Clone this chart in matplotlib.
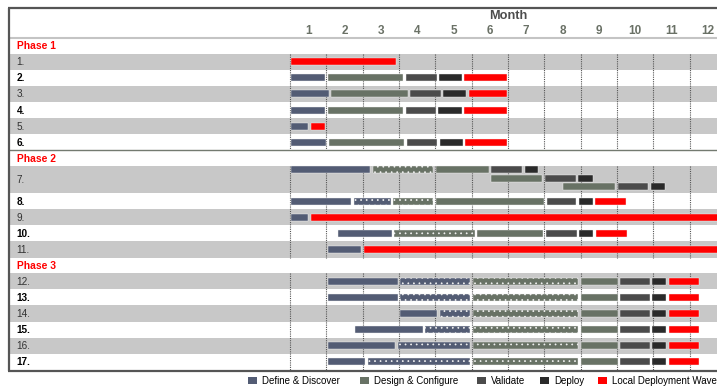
import matplotlib
matplotlib.use("Agg")
import matplotlib.pyplot as plt
from matplotlib.patches import Rectangle

plt.rcParams['font.family'] = ['Liberation Sans', 'DejaVu Sans']
plt.rcParams['hatch.linewidth'] = 0.5

# ---------------------------------------------------------------- data
months = list(range(1, 13))
phases = ["Phase 1", "Phase 2", "Phase 3"]
phase_tasks = [
    ["1.", "2.", "3.", "4.", "5.", "6."],
    ["7.", "8.", "9.", "10.", "11."],
    ["12.", "13.", "14.", "15.", "16.", "17."],
]
task_lanes = {"7.": 3}

categories = ["Define & Discover", "Design & Configure", "Validate",
              "Deploy", "Local Deployment Waves"]
colors = ["#535c74", "#687265", "#4b4b4b", "#2a2a2a", "#ff0000"]

# (task, lane, start, end) in months elapsed since the start of month 1
define_discover = [
    ("2.", 0, 0.0, 1.0), ("3.", 0, 0.0, 1.1), ("4.", 0, 0.0, 1.0),
    ("5.", 0, 0.0, 0.54), ("6.", 0, 0.0, 1.03),
    ("7.", 0, 0.0, 2.24), ("8.", 0, 0.0, 1.72), ("9.", 0, 0.0, 0.54),
    ("10.", 0, 1.28, 2.83), ("11.", 0, 1.0, 2.0),
    ("12.", 0, 1.0, 3.0), ("13.", 0, 1.0, 3.0), ("14.", 0, 3.0, 4.08),
    ("15.", 0, 1.75, 3.69), ("16.", 0, 1.0, 2.93), ("17.", 0, 1.0, 2.1),
]
define_discover_ongoing = [
    ("8.", 0, 1.72, 2.81),
    ("12.", 0, 3.0, 5.0), ("13.", 0, 3.0, 5.0), ("14.", 0, 4.08, 5.0),
    ("15.", 0, 3.69, 5.0), ("16.", 0, 2.93, 5.0), ("17.", 0, 2.1, 5.0),
]
design_configure = [
    ("2.", 0, 1.0, 3.15), ("3.", 0, 1.1, 3.27), ("4.", 0, 1.0, 3.15),
    ("6.", 0, 1.03, 3.18),
    ("7.", 0, 3.98, 5.5), ("7.", 1, 5.5, 6.98), ("7.", 2, 7.47, 8.98),
    ("8.", 0, 3.98, 7.03), ("10.", 0, 5.12, 7.01),
    ("12.", 0, 7.97, 9.05), ("13.", 0, 7.97, 9.05), ("14.", 0, 7.97, 9.05),
    ("15.", 0, 7.97, 9.05), ("16.", 0, 7.97, 9.05), ("17.", 0, 7.97, 9.05),
]
design_configure_ongoing = [
    ("7.", 0, 2.24, 3.98), ("8.", 0, 2.81, 3.98), ("10.", 0, 2.83, 5.12),
    ("12.", 0, 5.0, 7.97), ("13.", 0, 5.0, 7.97), ("14.", 0, 5.0, 7.97),
    ("15.", 0, 5.0, 7.97), ("16.", 0, 5.0, 7.97), ("17.", 0, 5.0, 7.97),
]
validate = [
    ("2.", 0, 3.15, 4.07), ("3.", 0, 3.27, 4.18), ("4.", 0, 3.15, 4.05),
    ("6.", 0, 3.18, 4.09),
    ("7.", 0, 5.5, 6.42), ("7.", 1, 6.98, 7.9), ("7.", 2, 8.98, 9.9),
    ("8.", 0, 7.03, 7.91), ("10.", 0, 7.01, 7.92),
    ("12.", 0, 9.05, 9.94), ("13.", 0, 9.05, 9.94), ("14.", 0, 9.05, 9.94),
    ("15.", 0, 9.05, 9.94), ("16.", 0, 9.05, 9.94), ("17.", 0, 9.05, 9.94),
]
deploy = [
    ("2.", 0, 4.07, 4.76), ("3.", 0, 4.18, 4.89), ("4.", 0, 4.05, 4.76),
    ("6.", 0, 4.09, 4.79),
    ("7.", 0, 6.42, 6.86), ("7.", 1, 7.9, 8.37), ("7.", 2, 9.9, 10.35),
    ("8.", 0, 7.91, 8.37), ("10.", 0, 7.92, 8.38),
    ("12.", 0, 9.94, 10.39), ("13.", 0, 9.94, 10.39), ("14.", 0, 9.94, 10.39),
    ("15.", 0, 9.94, 10.39), ("16.", 0, 9.94, 10.39), ("17.", 0, 9.94, 10.39),
]
deployment_waves = [
    ("1.", 0, 0.0, 2.95), ("2.", 0, 4.76, 6.0), ("3.", 0, 4.89, 6.0),
    ("4.", 0, 4.76, 6.0), ("5.", 0, 0.54, 1.0), ("6.", 0, 4.79, 6.02),
    ("8.", 0, 8.37, 9.28), ("9.", 0, 0.54, 12.0), ("10.", 0, 8.38, 9.3),
    ("11.", 0, 2.0, 12.0),
    ("12.", 0, 10.39, 11.3), ("13.", 0, 10.39, 11.3), ("14.", 0, 10.39, 11.3),
    ("15.", 0, 10.39, 11.3), ("16.", 0, 10.39, 11.3), ("17.", 0, 10.39, 11.3),
]

# ---------------------------------------------------------------- layout
W, H = 717, 389
X_MONTH0 = 290.0      # pixel column where month 1 begins
MONTH_PX = 36.34      # pixel width of one month
HEADER_BOTTOM = 38.0
PHASE_ROW_H = 15.5
TASK_ROW_H = 16.16
LANE_ROW_H = 27.0
BAR_H = 7.0
GAP = 0.07
BAND = "#c8c8c8"
FRAME = "#555555"


def px_x(p):
    return (p - X_MONTH0) / MONTH_PX


fig = plt.figure(figsize=(W / 100, H / 100), dpi=100)
ax = fig.add_axes([0, 0, 1, 1])
ax.set_xlim(px_x(0), px_x(W))
ax.set_ylim(H, 0)
ax.axis("off")

label_x = px_x(16.7)
band_left = px_x(9)
band_right = px_x(W + 5)

# row geometry
row_top = {}
row_height = {}
phase_spans = []
y = HEADER_BOTTOM
for phase, tasks in zip(phases, phase_tasks):
    ax.text(label_x, y + PHASE_ROW_H / 2 + 0.5, phase, color="#ff0000",
            fontsize=7.4, fontweight="bold", va="center", ha="left")
    y += PHASE_ROW_H
    start = y
    for i, t in enumerate(tasks):
        h = LANE_ROW_H if t in task_lanes else TASK_ROW_H
        row_top[t] = y
        row_height[t] = h
        shaded = (i % 2 == 0)
        if shaded:
            ax.add_patch(Rectangle((band_left, y), band_right - band_left, h,
                                   facecolor=BAND, edgecolor="none", zorder=0))
        ax.text(label_x, y + h / 2 + 0.5, t, fontsize=7.2, va="center", ha="left",
                color="#333333" if shaded else "#000000",
                fontweight="normal" if shaded else "bold")
        y += h
    phase_spans.append((start, y))

# dotted month grid inside each phase block
for y0, y1 in phase_spans:
    ax.vlines(range(0, 12), y0, y1, colors="#555555", linestyles=(0, (1, 1)),
              linewidth=0.8, zorder=1)

# header
ax.text(6.0, 15.5, "Month", fontsize=9.2, fontweight="bold", color="#4d4d4d",
        ha="center", va="center")
for m in months:
    ax.text(m - 0.5, 31, str(m), fontsize=8.5, fontweight="bold",
            color="#6a7166", ha="center", va="center")
ax.hlines(37.5, band_left, band_right, colors="#c4c4c4", linewidth=1.5, zorder=2)

# frame and phase separator
ax.hlines(7.5, px_x(8), band_right, colors=FRAME, linewidth=1.6, zorder=5)
ax.hlines(371, px_x(8), band_right, colors=FRAME, linewidth=1.6, zorder=5)
ax.vlines(px_x(9), 7.5, 371, colors=FRAME, linewidth=1.6, zorder=5)
ax.hlines(phase_spans[0][1], band_left, band_right, colors="#737a70",
          linewidth=1.0, zorder=2)


def lane_center(task, lane):
    if task in task_lanes:
        return row_top[task] + 4.0 + lane * 8.25
    return row_top[task] + row_height[task] / 2


def draw(segments, color, hatch=None):
    ys = [lane_center(t, l) for t, l, s, e in segments]
    lefts = [s + GAP / 2 for t, l, s, e in segments]
    widths = [e - s - GAP for t, l, s, e in segments]
    ax.barh(ys, widths, left=lefts, height=BAR_H, color=color,
            edgecolor="#f4f4f4", linewidth=0.3, hatch=hatch, zorder=3)


draw(define_discover, colors[0])
draw(define_discover_ongoing, colors[0], hatch="...")
draw(design_configure, colors[1])
draw(design_configure_ongoing, colors[1], hatch="...")
draw(validate, colors[2])
draw(deploy, colors[3])
draw(deployment_waves, colors[4])

# legend along the bottom
legend_square_x = [248, 360, 477, 540, 598]
legend_y = 380.5
for name, col, sx in zip(categories, colors, legend_square_x):
    fig.patches.append(Rectangle((sx / W, 1 - (legend_y + 3.5) / H), 9 / W, 7 / H,
                                 transform=fig.transFigure, facecolor=col,
                                 edgecolor="none"))
    fig.text((sx + 14) / W, 1 - legend_y / H, name, fontsize=7, color="#000000",
             ha="left", va="center")

fig.savefig("out.png", dpi=100)
